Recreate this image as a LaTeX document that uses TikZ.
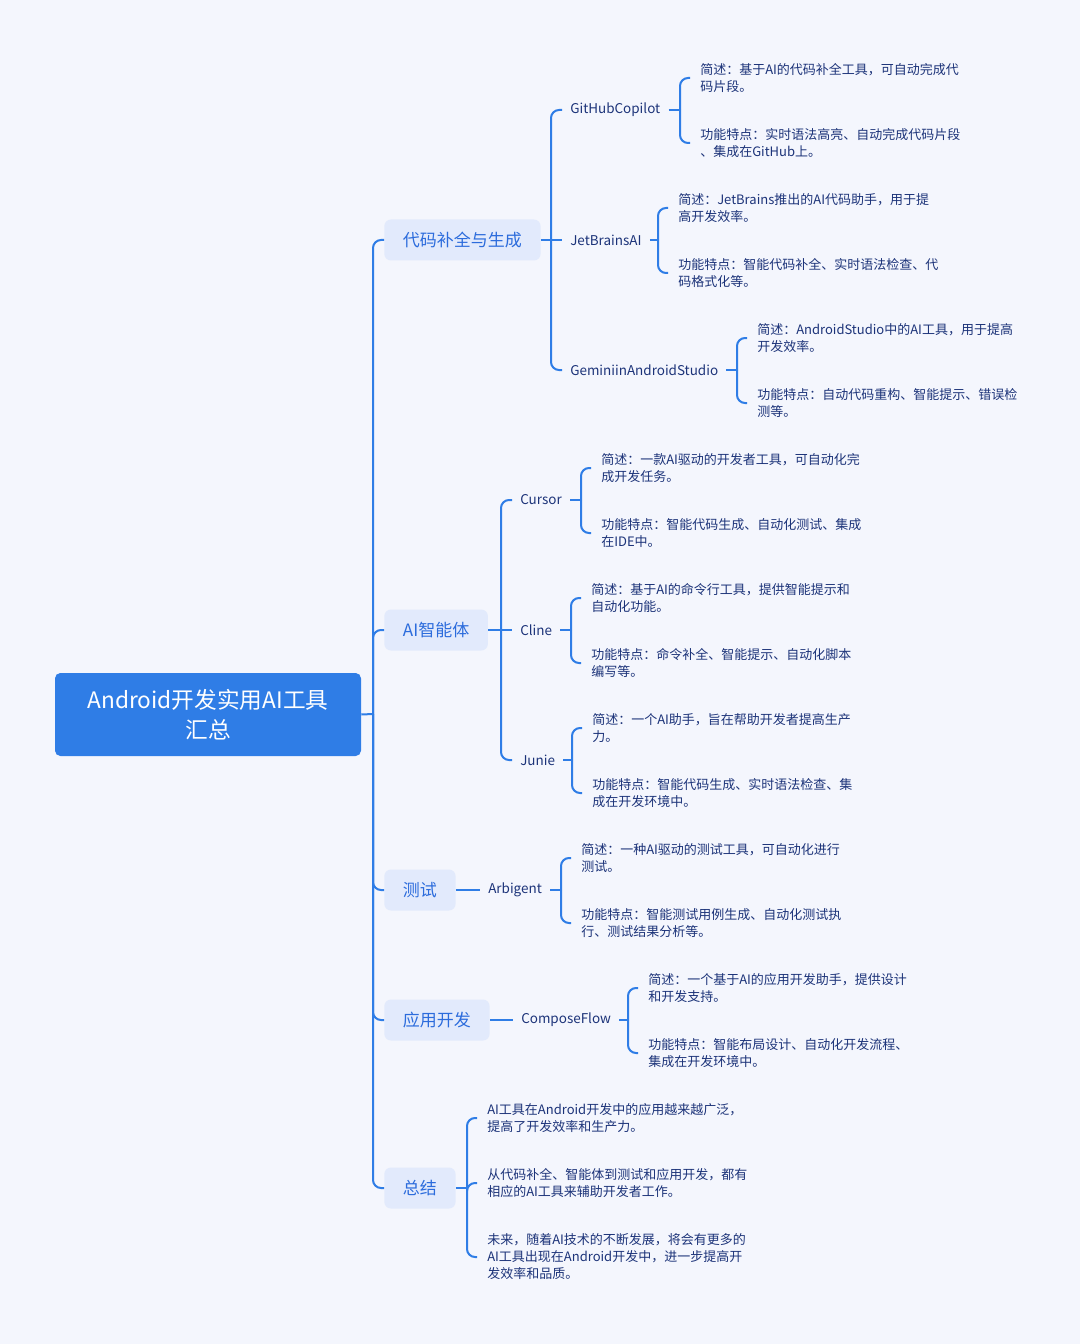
\documentclass[tikz,border=0pt]{standalone}
\usepackage{fontspec}
\setmainfont{Noto Sans CJK SC}
\definecolor{bgfill}{HTML}{F4F6FD}
\definecolor{mapblue}{HTML}{2F7DE6}
\definecolor{catfill}{HTML}{E2EAFC}
\definecolor{cattext}{HTML}{2C6CDC}
\definecolor{inktext}{HTML}{1C3379}

\begin{document}
\begin{tikzpicture}
	[x=0.75pt,y=-0.75pt,
	root/.style={rectangle,rounded corners=4pt,fill=mapblue,text=white,minimum width=229.5pt,minimum height=62.25pt,align=center,font=\fontsize{17}{22.5}\selectfont},
	cat/.style={rectangle,rounded corners=5pt,fill=catfill,text=cattext,minimum height=30.75pt,inner xsep=14pt,anchor=west,font=\fontsize{12.75}{15}\selectfont},
	tool/.style={text=inktext,inner xsep=6pt,anchor=west,font=\fontsize{10.1}{12}\selectfont},
	leaf/.style={text=inktext,inner xsep=7.5pt,inner ysep=0pt,anchor=west,align=left,font=\fontsize{9.75}{12.75}\selectfont},
	link/.style={draw=mapblue,line width=1.5pt,rounded corners=6pt}]

	\fill[bgfill] (0,0) rectangle (1080,1344);
	\useasboundingbox (0,0) rectangle (1080,1344);

	% root and categories
	\node[root] (root) at (208,714.5) {Android开发实用AI工具\\汇总};
	\coordinate (trunk) at (373,714);
	\node[cat] (code) at (384,240) {代码补全与生成};
	\node[cat] (agent) at (384,630) {AI智能体};
	\node[cat] (test) at (384,890) {测试};
	\node[cat] (app) at (384,1020) {应用开发};
	\node[cat] (sum) at (384,1188) {总结};

	\draw[link] (root.east) -- (trunk);
	\draw[link] (trunk) |- (code.west);
	\draw[link] (trunk) |- (agent.west);
	\draw[link] (trunk) |- (test.west);
	\draw[link] (trunk) |- (app.west);
	\draw[link] (trunk) |- (sum.west);

	% code completion tools
	\coordinate (codej) at (551,240);
	\node[tool] (copilot) at (562,110) {GitHubCopilot};
	\node[tool] (jetai) at (562,240) {JetBrainsAI};
	\node[tool] (gemini) at (562,370) {GeminiinAndroidStudio};
	\draw[link] (code.east) -- (codej);
	\draw[link] (codej) |- (copilot.west);
	\draw[link] (codej) -- (jetai.west);
	\draw[link] (codej) |- (gemini.west);

	\coordinate (copilotb) at (680,110);
	\node[leaf] (copilot1) at (690,78) {简述：基于AI的代码补全工具，可自动完成代\\码片段。};
	\node[leaf] (copilot2) at (690,143) {功能特点：实时语法高亮、自动完成代码片段\\、集成在GitHub上。};
	\draw[link] (copilot.east) -- (copilotb);
	\draw[link] (copilotb) |- (copilot1.west);
	\draw[link] (copilotb) |- (copilot2.west);

	\coordinate (jetaib) at (658,240);
	\node[leaf] (jetai1) at (668,208) {简述：JetBrains推出的AI代码助手，用于提\\高开发效率。};
	\node[leaf] (jetai2) at (668,273) {功能特点：智能代码补全、实时语法检查、代\\码格式化等。};
	\draw[link] (jetai.east) -- (jetaib);
	\draw[link] (jetaib) |- (jetai1.west);
	\draw[link] (jetaib) |- (jetai2.west);

	\coordinate (geminib) at (737,370);
	\node[leaf] (gemini1) at (747,338) {简述：AndroidStudio中的AI工具，用于提高\\开发效率。};
	\node[leaf] (gemini2) at (747,403) {功能特点：自动代码重构、智能提示、错误检\\测等。};
	\draw[link] (gemini.east) -- (geminib);
	\draw[link] (geminib) |- (gemini1.west);
	\draw[link] (geminib) |- (gemini2.west);

	% agents
	\coordinate (agentj) at (501,630);
	\node[tool] (cursor) at (512,500) {Cursor};
	\node[tool] (cline) at (512,630) {Cline};
	\node[tool] (junie) at (512,760) {Junie};
	\draw[link] (agent.east) -- (agentj);
	\draw[link] (agentj) |- (cursor.west);
	\draw[link] (agentj) -- (cline.west);
	\draw[link] (agentj) |- (junie.west);

	\coordinate (cursorb) at (581,500);
	\node[leaf] (cursor1) at (591,468) {简述：一款AI驱动的开发者工具，可自动化完\\成开发任务。};
	\node[leaf] (cursor2) at (591,533) {功能特点：智能代码生成、自动化测试、集成\\在IDE中。};
	\draw[link] (cursor.east) -- (cursorb);
	\draw[link] (cursorb) |- (cursor1.west);
	\draw[link] (cursorb) |- (cursor2.west);

	\coordinate (clineb) at (571,630);
	\node[leaf] (cline1) at (581,598) {简述：基于AI的命令行工具，提供智能提示和\\自动化功能。};
	\node[leaf] (cline2) at (581,663) {功能特点：命令补全、智能提示、自动化脚本\\编写等。};
	\draw[link] (cline.east) -- (clineb);
	\draw[link] (clineb) |- (cline1.west);
	\draw[link] (clineb) |- (cline2.west);

	\coordinate (junieb) at (572,760);
	\node[leaf] (junie1) at (582,728) {简述：一个AI助手，旨在帮助开发者提高生产\\力。};
	\node[leaf] (junie2) at (582,793) {功能特点：智能代码生成、实时语法检查、集\\成在开发环境中。};
	\draw[link] (junie.east) -- (junieb);
	\draw[link] (junieb) |- (junie1.west);
	\draw[link] (junieb) |- (junie2.west);

	% testing
	\node[tool] (arbig) at (480,890) {Arbigent};
	\draw[link] (test.east) -- (arbig.west);
	\coordinate (arbigb) at (561,890);
	\node[leaf] (arbig1) at (571,858) {简述：一种AI驱动的测试工具，可自动化进行\\测试。};
	\node[leaf] (arbig2) at (571,923) {功能特点：智能测试用例生成、自动化测试执\\行、测试结果分析等。};
	\draw[link] (arbig.east) -- (arbigb);
	\draw[link] (arbigb) |- (arbig1.west);
	\draw[link] (arbigb) |- (arbig2.west);

	% app development
	\node[tool] (compose) at (513,1020) {ComposeFlow};
	\draw[link] (app.east) -- (compose.west);
	\coordinate (composeb) at (628,1020);
	\node[leaf] (compose1) at (638,988) {简述：一个基于AI的应用开发助手，提供设计\\和开发支持。};
	\node[leaf] (compose2) at (638,1053) {功能特点：智能布局设计、自动化开发流程、\\集成在开发环境中。};
	\draw[link] (compose.east) -- (composeb);
	\draw[link] (composeb) |- (compose1.west);
	\draw[link] (composeb) |- (compose2.west);

	% summary
	\coordinate (sumb) at (467,1188);
	\node[leaf] (sum1) at (477,1118) {AI工具在Android开发中的应用越来越广泛，\\提高了开发效率和生产力。};
	\node[leaf] (sum2) at (477,1183) {从代码补全、智能体到测试和应用开发，都有\\相应的AI工具来辅助开发者工作。};
	\node[leaf] (sum3) at (477,1257) {未来，随着AI技术的不断发展，将会有更多的\\AI工具出现在Android开发中，进一步提高开\\发效率和品质。};
	\draw[link] (sum.east) -- (sumb);
	\draw[link] (sumb) |- (sum1.west);
	\draw[link] (sumb) |- (sum2.west);
	\draw[link] (sumb) |- (sum3.west);
\end{tikzpicture}
\end{document}
